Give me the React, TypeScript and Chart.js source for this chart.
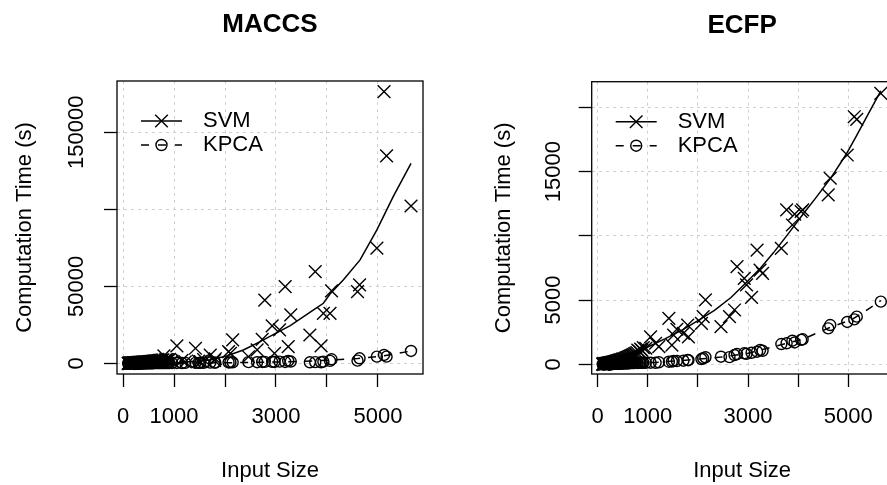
import React, { useEffect, useRef } from "react";
import { Chart, registerables } from "chart.js";

Chart.register(...registerables);

const FONT_FAMILY = '"Liberation Sans", Arial, Helvetica, sans-serif';
Chart.defaults.font.family = FONT_FAMILY;
Chart.defaults.color = "#000";

// ---------------- data ----------------
const SIZES = [
  100, 105, 112, 118, 125, 130, 138, 145, 150, 158,
  165, 172, 180, 188, 195, 203, 210, 218, 226, 235,
  243, 252, 260, 270, 280, 290, 300, 311, 322, 333,
  345, 357, 370, 383, 396, 410, 424, 438, 453, 468,
  484, 500, 517, 534, 552, 570, 589, 608, 628, 648,
  669, 690, 712, 735, 758, 782, 800, 831, 857, 883,
  910, 960, 1055, 1155, 1220, 1420, 1480, 1515, 1580, 1710,
  1795, 1810, 2070, 2105, 2150, 2460, 2630, 2730, 2780, 2925,
  2970, 3070, 3180, 3240, 3290, 3665, 3770, 3885, 3930, 4060,
  4090, 4600, 4640, 4980, 5120, 5170, 5650,
];

const MACCS_SVM = [
  40, 60, 50, 80, 70, 100, 90, 130, 120, 150,
  180, 160, 200, 230, 210, 260, 280, 300, 330, 350,
  340, 400, 420, 450, 480, 500, 550, 600, 580, 650,
  700, 680, 750, 800, 780, 850, 900, 950, 1000, 980,
  1050, 1100, 1200, 1150, 1300, 1350, 1400, 1500, 1600, 1550,
  1700, 1800, 1900, 2000, 2100, 2200, 4800, 2300, 2400, 2500,
  2600, 1500, 11300, 2000, 1000, 9800, 1500, 1200, 2500, 5400,
  2000, 3000, 7600, 6500, 15200, 4300, 8700, 15600, 41100, 24300,
  6500, 21700, 49800, 10800, 31400, 18400, 59500, 11300, 32500, 32500,
  47000, 46500, 50900, 74700, 176300, 134600, 102100,
];

const MACCS_KPCA = [
  8, 10, 12, 10, 15, 14, 18, 20, 18, 22,
  25, 24, 28, 30, 28, 32, 35, 38, 40, 42,
  40, 45, 48, 50, 52, 55, 58, 60, 62, 65,
  68, 70, 72, 75, 78, 80, 85, 88, 90, 95,
  98, 100, 105, 110, 112, 118, 120, 125, 130, 135,
  140, 145, 150, 155, 160, 165, 150, 170, 175, 180,
  185, 200, 250, 200, 300, 300, 350, 400, 350, 450,
  500, 450, 600, 650, 700, 800, 750, 900, 950, 1000,
  900, 1100, 900, 1550, 1200, 700, 800, 700, 1100, 1600,
  2660, 1750, 3300, 4350, 5450, 4350, 8050,
];

const ECFP_SVM = [
  15, 20, 25, 22, 30, 35, 32, 45, 40, 50,
  55, 52, 65, 70, 62, 80, 85, 90, 95, 110,
  105, 120, 130, 125, 150, 160, 155, 180, 190, 200,
  215, 230, 225, 260, 270, 290, 300, 320, 340, 330,
  380, 400, 420, 410, 470, 500, 530, 560, 600, 640,
  680, 720, 760, 820, 860, 920, 1110, 1000, 1180, 1080,
  1300, 1250, 2130, 1640, 1370, 3580, 1500, 2280, 2730, 2410,
  3060, 2130, 3190, 3710, 5010, 2930, 3710, 4230, 7600, 6700,
  6180, 5220, 8900, 7340, 7090, 9030, 12020, 10850, 11700, 11900,
  12020, 13190, 14490, 16300, 19280, 19080, 21100,
];

const ECFP_KPCA = [
  5, 6, 8, 7, 9, 10, 11, 12, 12, 14,
  15, 15, 17, 18, 18, 20, 21, 22, 23, 25,
  25, 27, 28, 30, 31, 33, 34, 36, 38, 40,
  42, 44, 45, 48, 50, 53, 55, 58, 60, 62,
  65, 68, 70, 72, 76, 80, 82, 85, 88, 92,
  95, 98, 100, 104, 108, 112, 100, 115, 118, 120,
  125, 120, 125, 120, 160, 200, 210, 260, 255, 280,
  330, 320, 410, 470, 550, 590, 560, 720, 800, 860,
  820, 900, 980, 1110, 1050, 1580, 1640, 1840, 1700, 1900,
  1950, 2800, 3060, 3300, 3500, 3710, 4880,
];

const MACCS_SVM_FIT_X = [100, 1000, 1700, 2030, 2360, 2690, 3010, 3280, 3730, 3930, 4060, 4320, 4650, 4980, 5300, 5650];
const MACCS_SVM_FIT_Y = [0, 300, 2200, 4800, 8700, 14100, 19800, 24500, 34600, 39000, 45000, 54100, 67100, 86600, 108200, 129800];
const MACCS_KPCA_FIT_X = [100, 1500, 2300, 3300, 4080, 4600, 5100, 5650];
const MACCS_KPCA_FIT_Y = [0, 200, 500, 1000, 2100, 3100, 4800, 8000];

const ECFP_SVM_FIT_X = [100, 300, 700, 1000, 1350, 1700, 2000, 2330, 2660, 3000, 3250, 3510, 3770, 4100, 4360, 4650, 4950, 5150, 5400, 5650];
const ECFP_SVM_FIT_Y = [50, 200, 720, 1350, 2000, 2700, 3400, 4200, 5200, 6500, 7500, 8700, 10000, 11700, 13000, 14500, 16300, 17700, 19500, 21300];
const ECFP_KPCA_FIT_X = [100, 500, 1150, 1800, 2460, 3000, 3510, 4100, 4620, 5080, 5400, 5650];
const ECFP_KPCA_FIT_Y = [10, 50, 150, 330, 560, 860, 1370, 1960, 2850, 3500, 4300, 4950];

const X_TICKS = [0, 1000, 2000, 3000, 4000, 5000];
const X_TICK_LABELS = [0, 1000, 3000, 5000];
const MACCS_Y_TICKS = [0, 50000, 100000, 150000];
const MACCS_Y_TICK_LABELS = [0, 50000, 150000];
const ECFP_Y_TICKS = [0, 5000, 10000, 15000, 20000];
const ECFP_Y_TICK_LABELS = [0, 5000, 15000];

const SERIES_NAMES = ["SVM", "KPCA"];
const X_TITLE = "Input Size";
const Y_TITLE = "Computation Time (s)";

// ---------------- panels ----------------
interface PanelCfg {
  title: string;
  svm: number[];
  kpca: number[];
  svmFitX: number[];
  svmFitY: number[];
  kpcaFitX: number[];
  kpcaFitY: number[];
  yTicks: number[];
  yLabels: number[];
  yMin: number;
  yMax: number;
  canvasLeft: number;
  canvasW: number;
  yAxisW: number;
  padRight: number;
  titlePadTop: number;
  titlePadBottom: number;
  yTickPad: number;
  yTitlePad: number;
}

const PANELS: PanelCfg[] = [
  {
    title: "MACCS",
    svm: MACCS_SVM,
    kpca: MACCS_KPCA,
    svmFitX: MACCS_SVM_FIT_X,
    svmFitY: MACCS_SVM_FIT_Y,
    kpcaFitX: MACCS_KPCA_FIT_X,
    kpcaFitY: MACCS_KPCA_FIT_Y,
    yTicks: MACCS_Y_TICKS,
    yLabels: MACCS_Y_TICK_LABELS,
    yMin: -6900,
    yMax: 183200,
    canvasLeft: 0,
    canvasW: 443,
    yAxisW: 117,
    padRight: 20,
    titlePadTop: 9.4,
    titlePadBottom: 40.4,
    yTickPad: -9.2,
    yTitlePad: 11.5,
  },
  {
    title: "ECFP",
    svm: ECFP_SVM,
    kpca: ECFP_KPCA,
    svmFitX: ECFP_SVM_FIT_X,
    svmFitY: ECFP_SVM_FIT_Y,
    kpcaFitX: ECFP_KPCA_FIT_X,
    kpcaFitY: ECFP_KPCA_FIT_Y,
    yTicks: ECFP_Y_TICKS,
    yLabels: ECFP_Y_TICK_LABELS,
    yMin: -755,
    yMax: 22009,
    canvasLeft: 443,
    canvasW: 460,
    yAxisW: 148.7,
    padRight: 5.3,
    titlePadTop: 10.1,
    titlePadBottom: 40.4,
    yTickPad: -5.4,
    yTitlePad: 47.8,
  },
];

const X_MIN = -120;
const X_MAX = 5885;
const CANVAS_H = 485;

const boxLegendPlugin = {
  id: "boxLegend",
  afterDatasetsDraw(chart: any) {
    const { ctx, chartArea: a } = chart;
    ctx.save();
    ctx.strokeStyle = "#000";
    ctx.lineWidth = 1.3;
    ctx.setLineDash([]);
    ctx.strokeRect(a.left, a.top, a.right - a.left, a.bottom - a.top);

    // legend (line + symbol + label), R style, top-left inside plot
    const x1 = a.left + 24;
    const x2 = a.left + 65;
    const cx = a.left + 44.5;
    const tx = a.left + 86;
    const rows = [a.top + 40, a.top + 64];
    ctx.font = `22px ${FONT_FAMILY}`;
    ctx.fillStyle = "#000";
    ctx.textBaseline = "middle";
    ctx.textAlign = "left";
    rows.forEach((y, i) => {
      ctx.beginPath();
      ctx.lineWidth = 1.4;
      ctx.setLineDash(i === 0 ? [] : [8, 9]);
      ctx.moveTo(x1, y);
      ctx.lineTo(x2, y);
      ctx.stroke();
      ctx.setLineDash([]);
      ctx.beginPath();
      if (i === 0) {
        const d = 6.3;
        ctx.moveTo(cx - d, y - d);
        ctx.lineTo(cx + d, y + d);
        ctx.moveTo(cx + d, y - d);
        ctx.lineTo(cx - d, y + d);
      } else {
        ctx.arc(cx, y, 5.5, 0, Math.PI * 2);
      }
      ctx.stroke();
      ctx.fillText(SERIES_NAMES[i], tx, y);
    });
    ctx.restore();
  },
};

function pts(xs: number[], ys: number[]) {
  return xs.map((x, i) => ({ x, y: ys[i] }));
}

function Panel({ cfg }: { cfg: PanelCfg }) {
  const ref = useRef<HTMLCanvasElement>(null);
  useEffect(() => {
    const gridOpts = {
      color: "#cfcfcf",
      lineWidth: 1,
      tickColor: "#000",
      tickLength: 13,
      tickWidth: 1.3,
      drawTicks: true,
    };
    const chart = new Chart(ref.current as HTMLCanvasElement, {
      type: "scatter",
      data: {
        datasets: [
          {
            label: SERIES_NAMES[0],
            data: pts(SIZES, cfg.svm),
            showLine: false,
            pointStyle: "crossRot",
            pointRadius: 9,
            pointBorderWidth: 1.4,
            pointBorderColor: "#000",
            pointBackgroundColor: "rgba(0,0,0,0)",
            clip: 0,
          } as any,
          {
            label: SERIES_NAMES[0] + " fit",
            data: pts(cfg.svmFitX, cfg.svmFitY),
            showLine: true,
            pointRadius: 0,
            borderColor: "#000",
            borderWidth: 1.5,
            tension: 0,
            fill: false,
            clip: 0,
          } as any,
          {
            label: SERIES_NAMES[1],
            data: pts(SIZES, cfg.kpca),
            showLine: false,
            pointStyle: "circle",
            pointRadius: 5.5,
            pointBorderWidth: 1.4,
            pointBorderColor: "#000",
            pointBackgroundColor: "rgba(0,0,0,0)",
            clip: 0,
          } as any,
          {
            label: SERIES_NAMES[1] + " fit",
            data: pts(cfg.kpcaFitX, cfg.kpcaFitY),
            showLine: true,
            pointRadius: 0,
            borderColor: "#000",
            borderWidth: 1.5,
            borderDash: [8, 8],
            tension: 0,
            fill: false,
            clip: 0,
          } as any,
        ],
      },
      options: {
        responsive: false,
        animation: false,
        devicePixelRatio: 1,
        events: [],
        layout: { padding: { left: 0, right: cfg.padRight, top: 0, bottom: 0 } },
        plugins: {
          legend: { display: false },
          tooltip: { enabled: false },
          title: {
            display: true,
            text: cfg.title,
            color: "#000",
            fullSize: false,
            font: { size: 26, weight: "bold" },
            padding: { top: cfg.titlePadTop, bottom: cfg.titlePadBottom },
          },
        },
        scales: {
          x: {
            type: "linear",
            position: "bottom",
            min: X_MIN,
            max: X_MAX,
            bounds: "data",
            afterBuildTicks: (s: any) => {
              s.ticks = X_TICKS.map((v) => ({ value: v }));
            },
            afterFit: (s: any) => {
              s.height = 111;
            },
            ticks: {
              autoSkip: false,
              minRotation: 0,
              maxRotation: 0,
              padding: 17,
              color: "#000",
              font: { size: 22 },
              callback: (v: any) => (X_TICK_LABELS.includes(Number(v)) ? String(v) : ""),
            },
            grid: gridOpts,
            border: { display: false, dash: [3, 4] },
            title: {
              display: true,
              text: X_TITLE,
              color: "#000",
              font: { size: 22 },
              padding: { top: 0, bottom: 1.3 },
            },
          } as any,
          y: {
            type: "linear",
            position: "left",
            min: cfg.yMin,
            max: cfg.yMax,
            bounds: "data",
            afterBuildTicks: (s: any) => {
              s.ticks = cfg.yTicks.map((v) => ({ value: v }));
            },
            afterFit: (s: any) => {
              s.width = cfg.yAxisW;
            },
            ticks: {
              autoSkip: false,
              minRotation: 90,
              maxRotation: 90,
              crossAlign: "center",
              padding: cfg.yTickPad,
              color: "#000",
              font: { size: 22 },
              callback: (v: any) => (cfg.yLabels.includes(Number(v)) ? String(v) : ""),
            },
            grid: gridOpts,
            border: { display: false, dash: [3, 4] },
            title: {
              display: true,
              text: Y_TITLE,
              color: "#000",
              font: { size: 22 },
              padding: { top: cfg.yTitlePad, bottom: 0 },
            },
          } as any,
        },
      },
      plugins: [boxLegendPlugin],
    });
    return () => chart.destroy();
  }, [cfg]);
  return (
    <canvas
      ref={ref}
      width={cfg.canvasW}
      height={CANVAS_H}
      style={{ position: "absolute", left: cfg.canvasLeft, top: 0, width: cfg.canvasW, height: CANVAS_H }}
    />
  );
}

export default function App() {
  return (
    <div
      style={{
        position: "fixed",
        left: 0,
        top: 0,
        width: 887,
        height: 485,
        overflow: "hidden",
        background: "#fff",
      }}
    >
      {PANELS.map((p) => (
        <Panel key={p.title} cfg={p} />
      ))}
    </div>
  );
}
